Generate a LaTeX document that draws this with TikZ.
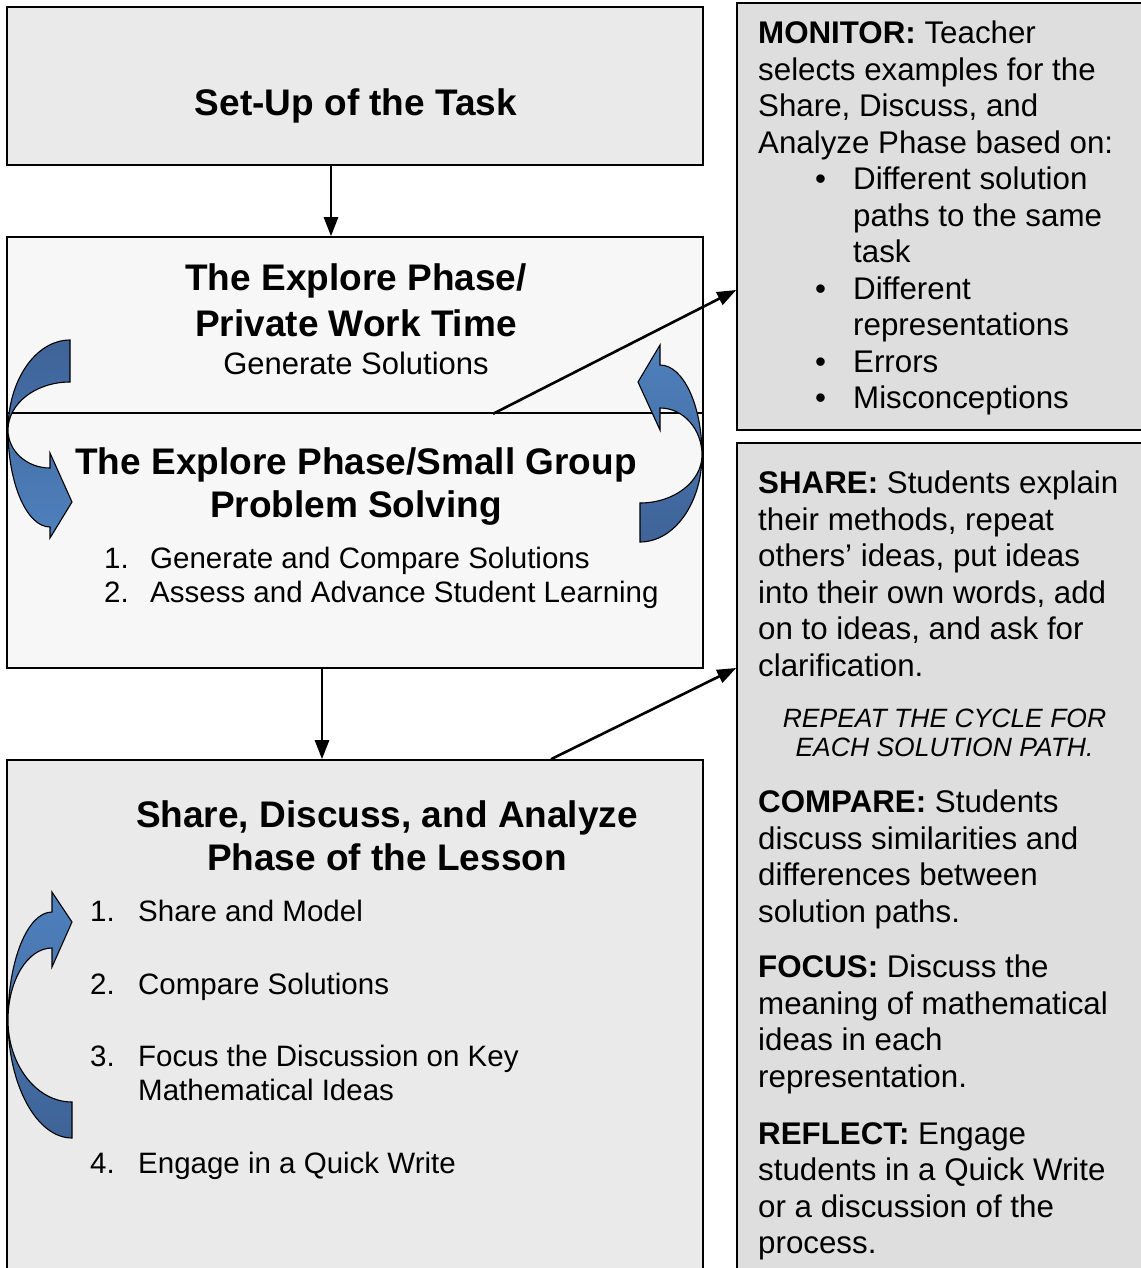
\documentclass[tikz,border=0pt]{standalone}
\usepackage{fontspec}
\setmainfont{Liberation Sans}
\usetikzlibrary{arrows.meta}
\definecolor{SetupGray}{HTML}{EAEAEA}
\definecolor{ExploreGray}{HTML}{F7F7F7}
\definecolor{NoteGray}{HTML}{DEDEDE}
\definecolor{LoopDark}{HTML}{3E6397}
\definecolor{LoopLight}{HTML}{4F81BD}
\tikzset{
  phasebox/.style={draw=black,line width=1.6pt,inner sep=0pt},
  flowarrow/.style={-{Triangle[length=19pt,width=14pt]},line width=2.6pt},
  looparrow/.style={draw=black,line width=1.1pt},
  headline/.style={anchor=north,inner sep=0pt,align=center,font=\fontsize{37}{43}\selectfont\bfseries},
  subline/.style={anchor=north,inner sep=0pt,font=\fontsize{31}{36}\selectfont},
  steplist/.style={anchor=north west,inner sep=0pt,align=left,font=\fontsize{29.5}{34}\selectfont},
  notetext/.style={anchor=north west,inner sep=0pt,align=left,font=\fontsize{31.3}{36.5}\selectfont},
}

\begin{document}
\begin{tikzpicture}[x=1pt,y=-1pt]
  \fill[white] (0,0) rectangle (1140,1268);
  \useasboundingbox (0,0) rectangle (1140,1268);

  % phase boxes on the left
  \node[phasebox,fill=SetupGray,minimum width=696pt,minimum height=158pt] (setup) at (355,86) {};
  \node[phasebox,fill=ExploreGray,minimum width=696pt,minimum height=176pt] (private) at (355,325) {};
  \node[phasebox,fill=ExploreGray,minimum width=696pt,minimum height=255pt] (smallgroup) at (355,540.5) {};
  \node[phasebox,fill=SetupGray,minimum width=696pt,minimum height=515pt] (share) at (355,1017.5) {};

  % notes on the right
  \node[phasebox,fill=NoteGray,minimum width=408pt,minimum height=427pt] (monitor) at (941,216.5) {};
  \node[phasebox,fill=NoteGray,minimum width=408pt,minimum height=832pt] (discuss) at (941,859) {};

  \draw[flowarrow] (setup.south -| 331,0) -- (private.north -| 331,0);
  \draw[flowarrow] (smallgroup.south -| 322,0) -- (share.north -| 322,0);
  \draw[flowarrow] (private.south -| 493,0) -- (monitor.west |- 0,290);
  \draw[flowarrow] (share.north -| 551,0) -- (discuss.west |- 0,668);

  % curved cycle arrows
  \path[looparrow,top color=LoopDark,bottom color=LoopLight]
    (70,340) .. controls (35.8,340) and (8,380.3) .. (8,430)
    .. controls (8,483.5) and (26.8,527) .. (50,527)
    -- (50,538) -- (72,502) -- (50,453) -- (50,468)
    .. controls (26.8,468) and (8,451) .. (8,430)
    .. controls (8,403.5) and (35.8,382) .. (70,382) -- cycle;
  \path[looparrow,top color=LoopLight,bottom color=LoopDark]
    (640,542) .. controls (674.2,542) and (702,503) .. (702,455)
    .. controls (702,429) and (683.2,408) .. (660,408)
    -- (660,430) -- (638,382) -- (660,345) -- (660,365)
    .. controls (683.2,365) and (702,405.3) .. (702,455)
    .. controls (702,481.5) and (674.2,503) .. (640,503) -- cycle;
  \path[looparrow,top color=LoopLight,bottom color=LoopDark]
    (72,1138) .. controls (36.7,1138) and (8,1085.1) .. (8,1020)
    .. controls (8,980.3) and (27.7,948) .. (52,948)
    -- (52,967) -- (72,922) -- (52,892) -- (52,912)
    .. controls (27.7,912) and (8,960.4) .. (8,1020)
    .. controls (8,1065.3) and (36.7,1102) .. (72,1102) -- cycle;

  % box texts
  \node[headline] (setuptitle) at (356,88) {Set-Up of the Task};
  \node[headline,font=\fontsize{37}{46}\selectfont\bfseries] (privatetitle) at (356,263)
    {The Explore Phase/\\Private Work Time};
  \node[subline] (privatesub) at (356,352) {Generate Solutions};
  \node[headline] (grouptitle) at (356,447) {The Explore Phase/Small Group\\Problem Solving};
  \node[steplist] (groupsteps) at (104,546.5)
    {\makebox[46pt][l]{1.}Generate and Compare Solutions\\
     \makebox[46pt][l]{2.}Assess and Advance Student Learning};
  \node[headline] (sharetitle) at (387,800) {Share, Discuss, and Analyze\\Phase of the Lesson};
  \node[steplist] (sharesteps) at (90,899.5)
    {\makebox[48pt][l]{1.}Share and Model\\[39pt]
     \makebox[48pt][l]{2.}Compare Solutions\\[38pt]
     \makebox[48pt][l]{3.}Focus the Discussion on Key\\
     \hspace*{48pt}Mathematical Ideas\\[39pt]
     \makebox[48pt][l]{4.}Engage in a Quick Write};

  % note texts
  \node[notetext] (monitornote) at (758,21)
    {\textbf{MONITOR:} Teacher\\
     selects examples for the\\
     Share, Discuss, and\\
     Analyze Phase based on:\\
     \hspace*{57pt}\makebox[38pt][l]{\textbullet}Different solution\\
     \hspace*{95pt}paths to the same\\
     \hspace*{95pt}task\\
     \hspace*{57pt}\makebox[38pt][l]{\textbullet}Different\\
     \hspace*{95pt}representations\\
     \hspace*{57pt}\makebox[38pt][l]{\textbullet}Errors\\
     \hspace*{57pt}\makebox[38pt][l]{\textbullet}Misconceptions};
  \node[notetext] (sharenote) at (758,471)
    {\textbf{SHARE:} Students explain\\
     their methods, repeat\\
     others’ ideas, put ideas\\
     into their own words, add\\
     on to ideas, and ask for\\
     clarification.};
  \node[anchor=north,inner sep=0pt,align=center,font=\fontsize{26.5}{29.5}\selectfont\itshape] (repeatnote) at (944.5,708.5)
    {REPEAT THE CYCLE FOR\\EACH SOLUTION PATH.};
  \node[notetext] (comparenote) at (758,790)
    {\textbf{COMPARE:} Students\\
     discuss similarities and\\
     differences between\\
     solution paths.};
  \node[notetext] (focusnote) at (758,955)
    {\textbf{FOCUS:} Discuss the\\
     meaning of mathematical\\
     ideas in each\\
     representation.};
  \node[notetext] (reflectnote) at (758,1122)
    {\textbf{REFLECT:} Engage\\
     students in a Quick Write\\
     or a discussion of the\\
     process.};
\end{tikzpicture}
\end{document}
